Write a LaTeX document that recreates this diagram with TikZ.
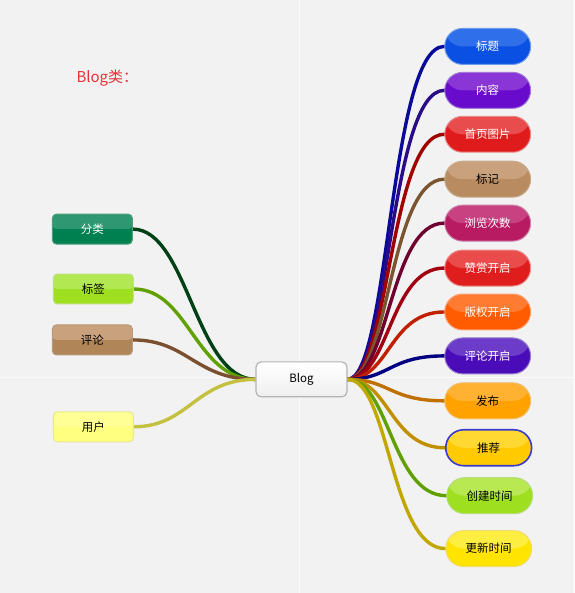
\documentclass[tikz,border=0pt]{standalone}
\usepackage{fontspec}
\newfontfamily\cjk{Noto Sans CJK SC}
\pgfdeclarelayer{bg}
\pgfdeclarelayer{lines}
\pgfsetlayers{bg,lines,main}
\definecolor{bgc}{HTML}{F2F2F2}
\definecolor{titlec}{HTML}{E8303A}
\definecolor{blogd}{HTML}{B4B4B4}
\definecolor{blogb}{HTML}{EFEFEF}
% right node colours: a=top, b=bottom, c=border
\definecolor{r1a}{HTML}{2F70EA}\definecolor{r1b}{HTML}{0A50E2}\definecolor{r1c}{HTML}{6F9AEA}
\definecolor{r2a}{HTML}{8A35D6}\definecolor{r2b}{HTML}{690BCC}\definecolor{r2c}{HTML}{A27AD6}
\definecolor{r3a}{HTML}{E84C4C}\definecolor{r3b}{HTML}{E01B1B}\definecolor{r3c}{HTML}{E88A8A}
\definecolor{r4a}{HTML}{C9A27D}\definecolor{r4b}{HTML}{B88B60}\definecolor{r4c}{HTML}{C8AA8C}
\definecolor{r5a}{HTML}{C84282}\definecolor{r5b}{HTML}{B81B62}\definecolor{r5c}{HTML}{CC82A6}
\definecolor{r6a}{HTML}{EA4C4C}\definecolor{r6b}{HTML}{E01D1D}\definecolor{r6c}{HTML}{EA8C8C}
\definecolor{r7a}{HTML}{FF7B32}\definecolor{r7b}{HTML}{FF5B00}\definecolor{r7c}{HTML}{FFA070}
\definecolor{r8a}{HTML}{6C3CC8}\definecolor{r8b}{HTML}{4A0BB8}\definecolor{r8c}{HTML}{9A80D0}
\definecolor{r9a}{HTML}{FFB232}\definecolor{r9b}{HTML}{FFA200}\definecolor{r9c}{HTML}{F0C070}
\definecolor{r10a}{HTML}{FFD832}\definecolor{r10b}{HTML}{FFCA00}\definecolor{r10c}{HTML}{3A3ACC}
\definecolor{r11a}{HTML}{B8E852}\definecolor{r11b}{HTML}{9EE020}\definecolor{r11c}{HTML}{B6DC7C}
\definecolor{r12a}{HTML}{FFEE42}\definecolor{r12b}{HTML}{FFE400}\definecolor{r12c}{HTML}{EEDC70}
% left node colours
\definecolor{l1a}{HTML}{2F9772}\definecolor{l1b}{HTML}{008050}\definecolor{l1c}{HTML}{4CA07E}
\definecolor{l2a}{HTML}{B2E852}\definecolor{l2b}{HTML}{9EE020}\definecolor{l2c}{HTML}{BEE080}
\definecolor{l3a}{HTML}{C9A27D}\definecolor{l3b}{HTML}{B08658}\definecolor{l3c}{HTML}{B89A7C}
\definecolor{l4a}{HTML}{FFFF96}\definecolor{l4b}{HTML}{FFFF80}\definecolor{l4c}{HTML}{E8E890}
% connector colours
\definecolor{k1}{HTML}{0A0A9A}\definecolor{k2}{HTML}{2A0C86}\definecolor{k3}{HTML}{A00000}
\definecolor{k4}{HTML}{7A5530}\definecolor{k5}{HTML}{6E0030}\definecolor{k6}{HTML}{A00010}
\definecolor{k7}{HTML}{C02000}\definecolor{k8}{HTML}{000080}\definecolor{k9}{HTML}{C07000}
\definecolor{k10}{HTML}{C09000}\definecolor{k11}{HTML}{60A000}\definecolor{k12}{HTML}{C0A800}
\definecolor{kl1}{HTML}{004015}\definecolor{kl2}{HTML}{60A000}\definecolor{kl3}{HTML}{7A5030}\definecolor{kl4}{HTML}{C4C040}
\tikzset{
  gloss/.style={fill=#1b, draw=#1c, path picture={\fill[#1a] (path picture bounding box.north west) rectangle (path picture bounding box.east);}},
  pill/.style={rounded corners=17.9pt, minimum width=86pt, minimum height=36pt, line width=1pt, inner sep=0pt, font=\cjk\fontsize{11.5}{13}\selectfont},
  lbox/.style={rounded corners=4pt, minimum width=80pt, minimum height=30pt, line width=1pt, inner sep=0pt, font=\cjk\fontsize{11.5}{13}\selectfont},
  conn/.style={line width=3.4pt, line cap=round},
}
\begin{document}
\begin{tikzpicture}[x=1pt,y=-1pt]
\begin{pgfonlayer}{bg}
\fill[bgc] (0,0) rectangle (574,593);
\draw[white!70!bgc, line width=1pt] (300,0) -- (300,593);
\draw[white!70!bgc, line width=1pt] (0,378) -- (574,378);
\end{pgfonlayer}
\useasboundingbox (0,0) rectangle (574,593);

\node[font=\cjk\fontsize{15}{17}\selectfont, text=titlec, anchor=west, inner sep=0pt] (title) at (76,78) {Blog类：};

\node[rounded corners=5pt, minimum width=91pt, minimum height=35pt, line width=1.2pt, draw=blogd, top color=white, bottom color=blogb, font=\cjk\fontsize{11.5}{13}\selectfont] (blog) at (301.5,379.5) {Blog};

% right nodes
\node[pill, gloss=r1, text=white] (t1) at (488,46) {标题};
\node[pill, gloss=r2, text=white] (t2) at (488,90) {内容};
\node[pill, gloss=r3, text=white] (t3) at (488,134) {首页图片};
\node[pill, gloss=r4, text=black] (t4) at (488,179) {标记};
\node[pill, gloss=r5, text=white] (t5) at (488,223) {浏览次数};
\node[pill, gloss=r6, text=white] (t6) at (488,268) {赞赏开启};
\node[pill, gloss=r7, text=white] (t7) at (488,312) {版权开启};
\node[pill, gloss=r8, text=white] (t8) at (488,356) {评论开启};
\node[pill, gloss=r9, text=black] (t9) at (488,401) {发布};
\node[pill, gloss=r10, line width=1.6pt, text=black] (t10) at (489,448) {推荐};
\node[pill, gloss=r11, text=black] (t11) at (490,496) {创建时间};
\node[pill, gloss=r12, text=black] (t12) at (489,549) {更新时间};

% left nodes
\node[lbox, gloss=l1, text=white] (l1) at (92,229) {分类};
\node[lbox, gloss=l2, text=black] (l2) at (93,289) {标签};
\node[lbox, gloss=l3, text=black] (l3) at (92,340) {评论};
\node[lbox, gloss=l4, text=black] (l4) at (93,427) {用户};

\begin{pgfonlayer}{lines}
\foreach \i in {1,...,12}{
  \draw[conn, k\i] (blog.east) .. controls +(42,0) and +(-55,0) .. (t\i.west);
}
\foreach \i in {1,...,4}{
  \draw[conn, kl\i] (l\i.east) .. controls +(55,0) and +(-60,0) .. (blog.west);
}
\end{pgfonlayer}
\end{tikzpicture}
\end{document}
